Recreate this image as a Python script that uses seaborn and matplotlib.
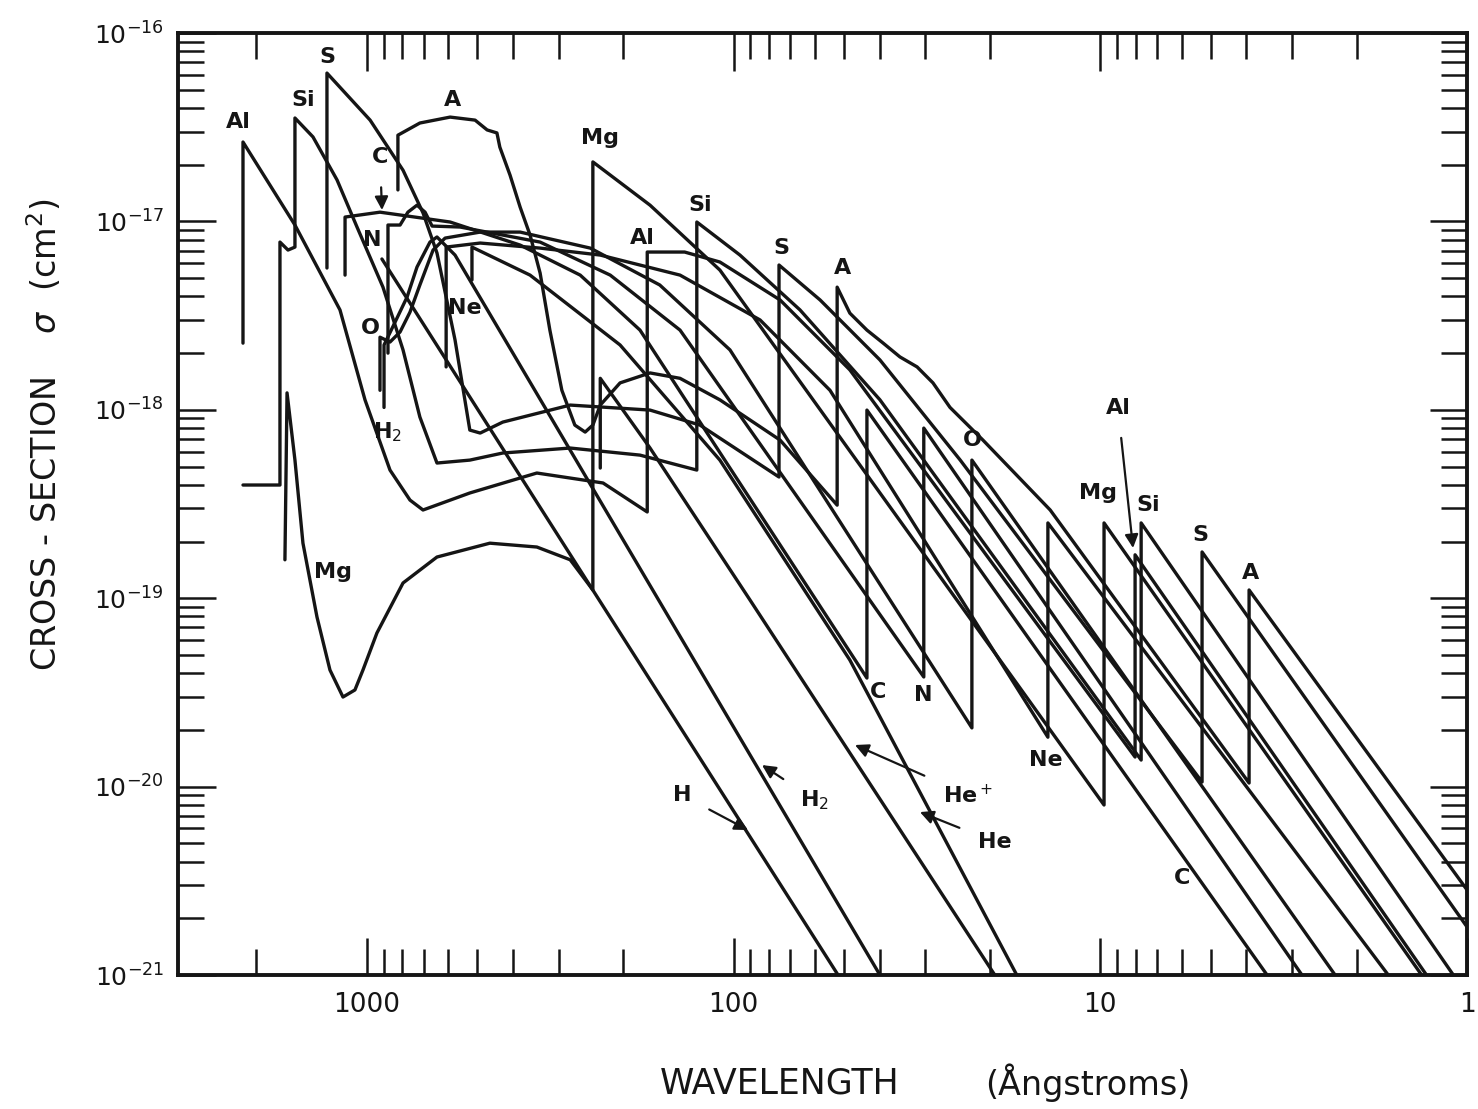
import numpy as np
import pandas as pd
import seaborn as sns
import matplotlib.pyplot as plt
from matplotlib.ticker import FixedLocator, LogLocator, NullFormatter

# Photoionization cross sections, wavelength in Angstrom, sigma in 1e-18 cm^2
lam_H = [910, 51.9]
sig_H = [6.32, 0.001]

lam_H2 = [898, 898, 838, 777, 730, 673, 644, 575, 39.9]
sig_H2 = [1.03, 2.21, 2.92, 3.97, 5.73, 7.77, 8.27, 6.63, 0.001]

lam_He = [517, 517, 359, 204, 109, 48.2, 16.9]
sig_He = [4.89, 7.31, 5.19, 2.21, 0.541, 0.047, 0.001]

lam_Hep = [231, 231, 169, 90.2, 19.4]
sig_Hep = [0.491, 1.47, 0.627, 0.0978, 0.001]

lam_C = [1147, 1147, 921, 593, 382, 262, 180, 43.3, 43.3, 3.51]
sig_C = [5.19, 10.55, 11.2, 9.93, 7.49, 5.19, 2.65, 0.0377, 0.997, 0.001]

lam_N = [876, 876, 812, 773, 730, 694, 664, 557, 337, 217, 140, 30.3, 30.3, 2.82]
sig_N = [2.0, 9.57, 9.57, 11.2, 12.2, 11.2, 9.45, 9.34, 7.77, 5.19, 2.65, 0.0382, 0.800, 0.001]

lam_O = [921, 921, 865, 812, 763, 717, 660, 612, 491, 382, 246, 159, 102.3, 22.4, 22.4, 2.29]
sig_O = [1.27, 2.43, 2.29, 2.59, 3.30, 4.60, 7.05, 8.16, 8.78, 8.78, 7.22, 4.60, 2.08, 0.0205, 0.541, 0.001]

lam_Ne = [608, 608, 491, 337, 231, 140, 84.7, 54.6, 13.9, 13.9, 1.64]
sig_Ne = [1.69, 7.31, 7.68, 7.22, 6.63, 5.19, 3.00, 1.27, 0.0183, 0.251, 0.001]

lam_Mg = [1673, 1651, 1571, 1494, 1368, 1261, 1162, 1078, 1025, 939, 797, 644, 462, 344,
          279, 242, 242, 169, 109, 9.77, 9.77, 1.33]
sig_Mg = [0.160, 1.23, 0.541, 0.196, 0.0795, 0.0416, 0.0299, 0.0326, 0.0416, 0.0654, 0.1205,
          0.1655, 0.196, 0.187, 0.160, 0.1106, 20.7, 12.2, 5.52, 0.00799, 0.251, 0.001]

lam_Al = [2177, 2177, 1571, 1184, 1012, 865, 763, 703, 524, 344, 227, 172, 172, 136, 109,
          74.7, 48.2, 8.04, 8.04, 1.29]
sig_Al = [2.26, 26.4, 9.57, 3.39, 1.13, 0.479, 0.332, 0.294, 0.362, 0.462, 0.409, 0.287, 6.88,
          6.88, 6.09, 3.83, 1.63, 0.01436, 0.170, 0.001]

lam_Si = [2177, 1726, 1726, 1641, 1571, 1571, 1403, 1206, 1064, 904, 797, 717, 644, 524, 426,
          279, 180, 126, 126, 96.1, 65.9, 39.9, 7.74, 7.74, 1.09]
sig_Si = [0.399, 0.399, 7.77, 7.05, 7.31, 35.4, 28.1, 16.6, 9.34, 4.48, 2.08, 0.916, 0.522,
          0.541, 0.590, 0.627, 0.575, 0.479, 9.93, 6.63, 3.39, 1.13, 0.01384, 0.251, 0.001]

lam_S = [1285, 1285, 980, 797, 703, 644, 575, 524, 491, 426, 279, 169, 123.5, 75.2, 75.2, 58.1,
         39.9, 24.1, 5.28, 5.28, 1.0]
sig_S = [5.66, 61.3, 34.5, 18.7, 11.1, 6.80, 2.35, 0.781, 0.753, 0.861, 1.06, 0.997, 0.830,
         0.440, 5.87, 3.83, 1.84, 0.541, 0.01058, 0.176, 0.0018]

lam_A = [823, 823, 717, 593, 507, 470, 442, 434, 407, 382, 359, 337, 317, 294, 271, 254, 242,
         231, 204, 169, 140, 109, 74.7, 52.2, 52.2, 48.2, 43.3, 39.1, 35.2, 31.6, 28.6, 25.7,
         20.9, 13.7, 3.93, 3.93, 1.0]
sig_A = [14.7, 28.7, 33.3, 35.8, 34.5, 30.6, 29.5, 24.8, 17.6, 11.9, 8.47, 5.32, 2.65, 1.27,
         0.830, 0.762, 0.830, 1.06, 1.39, 1.57, 1.47, 1.13, 0.691, 0.312, 4.48, 3.26, 2.65,
         2.26, 1.91, 1.69, 1.39, 1.03, 0.691, 0.294, 0.01045, 0.1106, 0.00283]

curves = {
    'H': (lam_H, sig_H), 'H2': (lam_H2, sig_H2), 'He': (lam_He, sig_He),
    'He+': (lam_Hep, sig_Hep), 'C': (lam_C, sig_C), 'N': (lam_N, sig_N),
    'O': (lam_O, sig_O), 'Ne': (lam_Ne, sig_Ne), 'Mg': (lam_Mg, sig_Mg),
    'Al': (lam_Al, sig_Al), 'Si': (lam_Si, sig_Si), 'S': (lam_S, sig_S), 'A': (lam_A, sig_A),
}

ink = '#151515'
sns.set_theme(style="ticks")
plt.rcParams['font.family'] = ['DejaVu Sans']

fig = plt.figure(figsize=(14.78, 11.09), dpi=100)
ax = fig.add_axes([0.1204, 0.1208, 0.8722, 0.8494])

for name, (lam, sig) in curves.items():
    df = pd.DataFrame({'wavelength': lam, 'sigma': np.array(sig) * 1e-18})
    sns.lineplot(data=df, x='wavelength', y='sigma', sort=False, estimator=None,
                 color=ink, lw=2.4, ax=ax)

ax.set_xscale('log')
ax.set_yscale('log')
ax.set_xlim(3275, 1)
ax.set_ylim(1e-21, 1e-16)
ax.set_xlabel('')
ax.set_ylabel('')

ax.set_xticks([1000, 100, 10, 1])
ax.set_xticklabels(['1000', '100', '10', '1'])
xminor = [m * 10.0 ** e for e in (0, 1, 2) for m in range(2, 10)] + [2000]
ax.xaxis.set_minor_locator(FixedLocator(xminor))
ax.xaxis.set_minor_formatter(NullFormatter())
ax.set_yticks([1e-21, 1e-20, 1e-19, 1e-18, 1e-17, 1e-16])
ax.set_yticklabels([r'$10^{-%d}$' % k for k in (21, 20, 19, 18, 17, 16)])
ax.yaxis.set_minor_locator(LogLocator(base=10, subs=np.arange(2, 10), numticks=20))
ax.yaxis.set_minor_formatter(NullFormatter())

ax.tick_params(which='both', direction='in', top=True, right=True, width=1.8, colors=ink)
ax.tick_params(which='major', length=27)
ax.tick_params(which='minor', length=19)
ax.tick_params(axis='x', labelsize=19, pad=12)
ax.tick_params(axis='y', labelsize=18, pad=10)
for sp in ax.spines.values():
    sp.set_linewidth(2.8)
    sp.set_color(ink)

# element labels (axes fractions)
labels = [
    ('Al', 0.0465, 0.9055), ('Si', 0.097, 0.929), ('S', 0.1156, 0.9745), ('A', 0.2126, 0.929),
    ('N', 0.1505, 0.7803), ('O', 0.149, 0.6868), ('H$_2$', 0.1629, 0.5764),
    ('Ne', 0.2227, 0.7081), ('Mg', 0.1202, 0.4278), ('Mg', 0.3274, 0.8885),
    ('Al', 0.36, 0.7824), ('Si', 0.405, 0.8174), ('S', 0.4678, 0.7718), ('A', 0.5159, 0.7505),
    ('O', 0.616, 0.5679), ('Mg', 0.7137, 0.5117), ('Si', 0.7525, 0.4989),
    ('S', 0.7929, 0.4671), ('A', 0.8317, 0.4268), ('C', 0.543, 0.3004), ('N', 0.578, 0.2972),
    ('Ne', 0.6734, 0.2282), ('C', 0.7789, 0.103),
]
for txt, fx, fy in labels:
    ax.text(fx, fy, txt, transform=ax.transAxes, ha='center', va='center',
            fontsize=16, fontweight='bold', color=ink)

arrows = [
    ('C', (0.1567, 0.868), (0.1583, 0.8121)),
    ('Al', (0.7292, 0.6019), (0.7409, 0.4533)),
    ('H', (0.391, 0.1911), (0.4422, 0.1539)),
    ('H$_2$', (0.4942, 0.1858), (0.4531, 0.2229)),
    ('He$^+$', (0.6129, 0.1911), (0.5252, 0.2442)),
    ('He', (0.6338, 0.1412), (0.5756, 0.1730)),
]
for txt, xyt, xy in arrows:
    ax.annotate(txt, xy=xy, xytext=xyt, xycoords='axes fraction', textcoords='axes fraction',
                ha='center', va='center', fontsize=16, fontweight='bold', color=ink,
                arrowprops=dict(arrowstyle='-|>', color=ink, lw=1.6, mutation_scale=20,
                                shrinkA=12, shrinkB=0))

fig.text(45 / 1478, 1 - 435 / 1109, r'CROSS - SECTION    $\sigma$  (cm$^2$)', rotation=90,
         ha='center', va='center', fontsize=24, color=ink)
fig.text(780 / 1478, 1 - 1083 / 1109, 'WAVELENGTH', ha='center', va='center',
         fontsize=25, color=ink)
fig.text(1088 / 1478, 1 - 1083 / 1109, '(Ångstroms)', ha='center', va='center',
         fontsize=24, color=ink)

fig.savefig('out.png', dpi=100)
